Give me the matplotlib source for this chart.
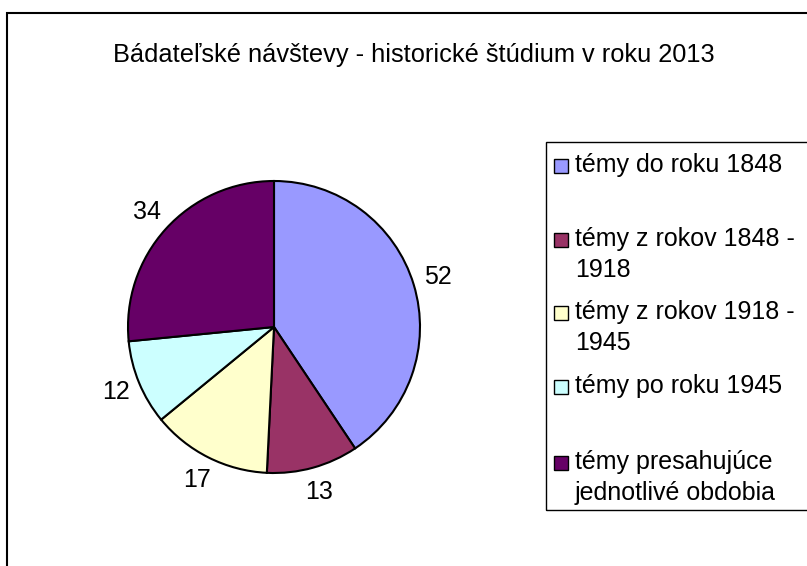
import matplotlib
matplotlib.use("Agg")
import matplotlib.pyplot as plt
from matplotlib.patches import Rectangle

plt.rcParams['font.family'] = ['Liberation Sans', 'DejaVu Sans']

# data
title = "Bádateľské návštevy - historické štúdium v roku 2013"
labels = ["témy do roku 1848",
          "témy z rokov 1848 -\n1918",
          "témy z rokov 1918 -\n1945",
          "témy po roku 1945",
          "témy presahujúce\njednotlivé obdobia"]
values = [52, 13, 17, 12, 34]
colors = ["#9999FF", "#993366", "#FFFFCC", "#CCFFFF", "#660066"]

W, H = 807, 566
fig = plt.figure(figsize=(W / 100, H / 100), dpi=100)

# outer chart frame (runs off the right and bottom edge like the original)
fig.patches.append(Rectangle((7 / W, -0.1), 2, (H - 13) / H + 0.1, transform=fig.transFigure,
                             fill=False, edgecolor="black", lw=1.5))

fig.text(414 / W, 1 - 55 / H, title, ha="center", va="center", fontsize=18.3)

# pie axes: centre at (274, 327) px, radius 146 px
r = 146
lim = 1.3
side = 2 * lim * r
cx, cy = 274, H - 327
ax = fig.add_axes([(cx - side / 2) / W, (cy - side / 2) / H, side / W, side / H])
wedges, texts = ax.pie(values, labels=[str(v) for v in values], colors=colors,
                       startangle=90, counterclock=False, labeldistance=1.17,
                       wedgeprops=dict(edgecolor="black", linewidth=1.5),
                       textprops=dict(fontsize=18))
for t in texts:
    t.set_ha("center")
    t.set_va("center")
ax.set_xlim(-lim, lim)
ax.set_ylim(-lim, lim)
ax.set_aspect("equal")
ax.axis("off")

# legend box
fig.patches.append(Rectangle((546 / W, 1 - 510 / H), 1, (510 - 142) / H, transform=fig.transFigure,
                             fill=False, edgecolor="black", lw=1))
entry_y = [166, 240, 313, 387, 463]
for lab, col, y in zip(labels, colors, entry_y):
    fig.patches.append(Rectangle((554 / W, 1 - (y + 7) / H), 14 / W, 14 / H, transform=fig.transFigure,
                                 facecolor=col, edgecolor="black", lw=1))
    fig.text(575 / W, 1 - (y - 13) / H, lab, ha="left", va="top", fontsize=18, linespacing=1.38)

fig.savefig("out.png", dpi=100)
